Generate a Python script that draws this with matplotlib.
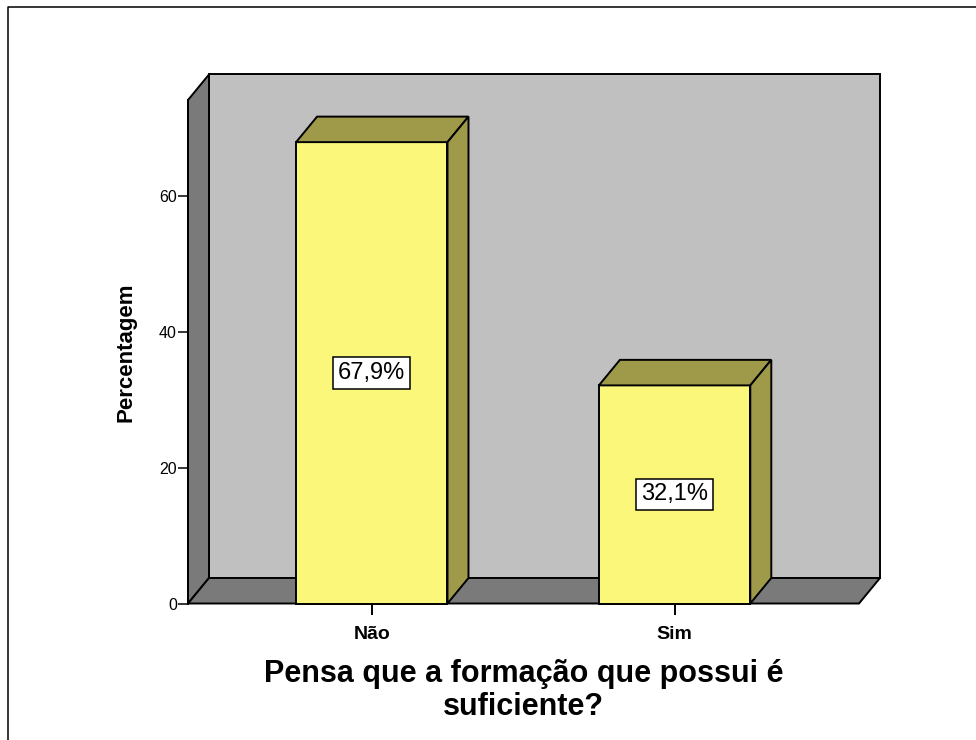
import matplotlib
matplotlib.use("Agg")
import matplotlib.pyplot as plt
from matplotlib.patches import Polygon
from matplotlib.lines import Line2D

categories = ["Não", "Sim"]
values = [67.9, 32.1]
value_labels = ["67,9%", "32,1%"]
yticks = [0, 20, 40, 60]
xlabel = "Pensa que a formação que possui é\nsuficiente?"
ylabel = "Percentagem"

plt.rcParams['font.family'] = ['Liberation Sans', 'DejaVu Sans']

fig = plt.figure(figsize=(9.76, 7.4), dpi=100)
fig.patch.set_facecolor('white')

# frame border
fig.add_artist(Line2D([8/976, 8/976, 1.0], [0.0, 1 - 7/740, 1 - 7/740],
                      transform=fig.transFigure, color='black', lw=1.1))

ax = fig.add_axes([188/976, (740-603.5)/740, 671/976, 503.5/740])
x0, x1 = -0.607, 1.609
ymax = 74.1
ax.set_xlim(x0, x1)
ax.set_ylim(0, ymax)
ax.set_facecolor('none')
for s in ['top', 'right', 'bottom']:
    ax.spines[s].set_visible(False)
ax.spines['left'].set_linewidth(1.4)

dx = 21/302.8
dy = 25.5/6.79
ec = 'black'
lw = 1.4
wall_back = '#c0c0c0'
wall_dark = '#7a7a7a'
bar_front = '#faf77a'
bar_dark = '#9e9a4a'

def poly(pts, fc, z):
    p = Polygon(pts, closed=True, facecolor=fc, edgecolor=ec, lw=lw,
                zorder=z, clip_on=False, joinstyle='miter')
    ax.add_patch(p)

# back wall
poly([(x0+dx, dy), (x1+dx, dy), (x1+dx, ymax+dy), (x0+dx, ymax+dy)], wall_back, 1)
# left wall
poly([(x0, 0), (x0+dx, dy), (x0+dx, ymax+dy), (x0, ymax)], wall_dark, 1)
# floor
poly([(x0, 0), (x1, 0), (x1+dx, dy), (x0+dx, dy)], wall_dark, 1)

w = 0.5
for i, (v, lab) in enumerate(zip(values, value_labels)):
    l, r = i - w/2, i + w/2
    poly([(l, 0), (r, 0), (r, v), (l, v)], bar_front, 3)
    poly([(l, v), (r, v), (r+dx, v+dy), (l+dx, v+dy)], bar_dark, 3)
    poly([(r, 0), (r+dx, dy), (r+dx, v+dy), (r, v)], bar_dark, 3)
    ax.text(i, v/2, lab, ha='center', va='center', fontsize=17, zorder=5,
            bbox=dict(boxstyle='square,pad=0.2', fc='white', ec='black', lw=1.1))

ax.set_yticks(yticks)
ax.set_yticklabels([str(t) for t in yticks], fontsize=11.5)
ax.tick_params(axis='y', direction='out', length=7, width=1.1, pad=1)
ax.set_xticks(range(len(categories)))
ax.set_xticklabels(categories, fontsize=14, fontweight='bold')
ax.tick_params(axis='x', direction='out', length=8, width=1.4, pad=8)
ax.set_xlabel(xlabel, fontsize=22, fontweight='bold', labelpad=12, linespacing=1.1)
ax.set_ylabel(ylabel, fontsize=16, fontweight='bold', labelpad=16)

fig.savefig('out.png', dpi=100)
